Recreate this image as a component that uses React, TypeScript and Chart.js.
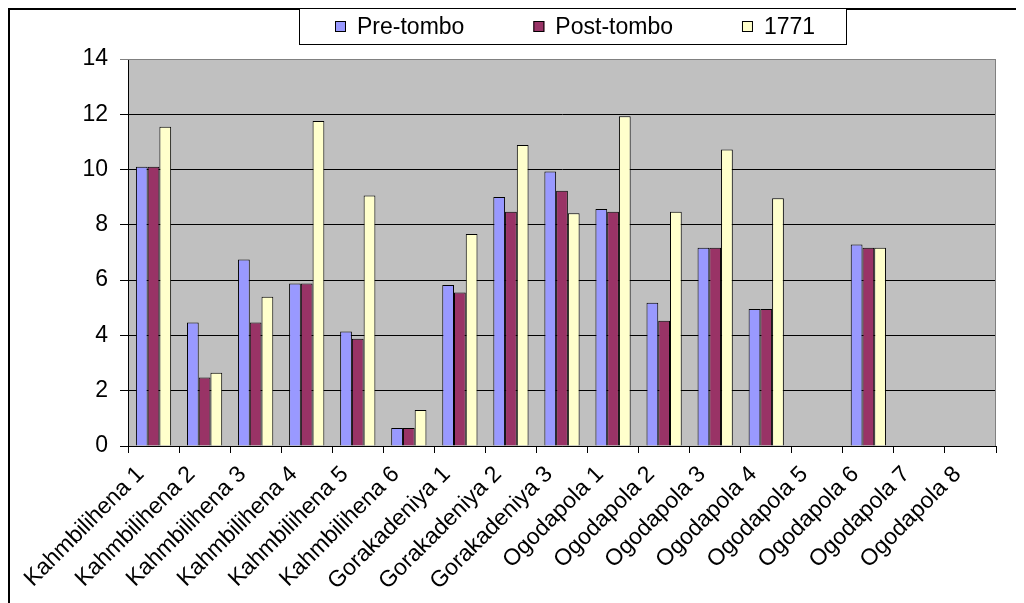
import React, { useEffect, useRef } from "react";
import { Chart, registerables } from "chart.js";

Chart.register(...registerables);

const categories = [
  "Kahmbilihena 1", "Kahmbilihena 2", "Kahmbilihena 3", "Kahmbilihena 4",
  "Kahmbilihena 5", "Kahmbilihena 6", "Gorakadeniya 1", "Gorakadeniya 2",
  "Gorakadeniya 3", "Ogodapola 1", "Ogodapola 2", "Ogodapola 3",
  "Ogodapola 4", "Ogodapola 5", "Ogodapola 6", "Ogodapola 7", "Ogodapola 8",
];
const preTombo = [10.1, 4.47, 6.75, 5.88, 4.14, 0.65, 5.82, 9.01, 9.93, 8.57, 5.18, 7.17, 4.96, null, 7.29, null, null];
const postTombo = [10.1, 2.48, 4.47, 5.88, 3.88, 0.65, 5.55, 8.47, 9.23, 8.47, 4.53, 7.17, 4.96, null, 7.17, null, null];
const y1771 = [11.55, 2.65, 5.4, 11.76, 9.06, 1.3, 7.67, 10.89, 8.42, 11.93, 8.47, 10.73, 8.96, null, 7.17, null, null];
const seriesNames = ["Pre-tombo", "Post-tombo", "1771"];
const seriesColors = ["#9999FF", "#993366", "#FFFFCC"];
const yTicks = { min: 0, max: 14, step: 2 };

const FONT = "'Liberation Sans', Arial, sans-serif";
const FS = 23;
const W = 1040;
const H = 620;

const framePlugin = {
  id: "frame",
  beforeDraw(chart: any) {
    const { ctx, chartArea: a } = chart;
    ctx.save();
    ctx.fillStyle = "#ffffff";
    ctx.fillRect(0, 0, chart.width, chart.height);
    ctx.fillStyle = "#C0C0C0";
    ctx.fillRect(a.left, a.top, a.right - a.left, a.bottom - a.top);
    ctx.restore();
  },
  afterDraw(chart: any) {
    const { ctx, chartArea: a } = chart;
    ctx.save();
    ctx.strokeStyle = "#808080";
    ctx.lineWidth = 1;
    ctx.beginPath();
    ctx.moveTo(a.left, a.top + 0.5);
    ctx.lineTo(a.right - 0.5, a.top + 0.5);
    ctx.lineTo(a.right - 0.5, a.bottom);
    ctx.stroke();
    ctx.strokeStyle = "#000";
    ctx.lineWidth = 2;
    ctx.strokeRect(1, 1, chart.width - 2, chart.height - 2);

    const ds = chart.data.datasets;
    ctx.font = `${FS}px ${FONT}`;
    const box = 11;
    const boxGap = 11;
    const itemGap = 69;
    const widths = ds.map((d: any) => ctx.measureText(d.label).width);
    let total = 0;
    widths.forEach((w: number, i: number) => {
      total += box + boxGap + w + (i < widths.length - 1 ? itemGap : 0);
    });
    const padL = 36;
    const padR = 31;
    const cx = 565;
    const bx = Math.round(cx - (total + padL + padR) / 2);
    const bw = Math.round(total + padL + padR);
    ctx.fillStyle = "#fff";
    ctx.fillRect(bx, 0, bw, 36);
    ctx.strokeStyle = "#000";
    ctx.lineWidth = 1;
    ctx.strokeRect(bx + 0.5, 0.5, bw, 36);
    let x = bx + padL;
    ds.forEach((d: any, i: number) => {
      ctx.fillStyle = d.backgroundColor;
      ctx.fillRect(x, 13, box, box);
      ctx.strokeStyle = "#000";
      ctx.strokeRect(x + 0.5, 13.5, box - 1, box - 1);
      ctx.fillStyle = "#000";
      ctx.textBaseline = "alphabetic";
      ctx.textAlign = "left";
      ctx.fillText(d.label, x + box + boxGap, 26);
      x += box + boxGap + widths[i] + itemGap;
    });
    ctx.restore();
  },
};

export default function App() {
  const ref = useRef<HTMLCanvasElement | null>(null);
  useEffect(() => {
    if (!ref.current) return;
    const chart = new Chart(ref.current, {
      type: "bar",
      data: {
        labels: categories,
        datasets: [preTombo, postTombo, y1771].map((d, i) => ({
          label: seriesNames[i],
          data: d,
          backgroundColor: seriesColors[i],
          borderColor: "#000",
          borderWidth: 1,
          categoryPercentage: 0.69,
          barPercentage: 1,
        })),
      },
      options: {
        responsive: false,
        devicePixelRatio: 1,
        animation: false,
        layout: { padding: { left: 0, top: 51, right: 52, bottom: 0 } },
        plugins: {
          legend: { display: false },
          tooltip: { enabled: false },
        },
        scales: {
          x: {
            grid: {
              offset: true,
              drawOnChartArea: false,
              drawTicks: true,
              tickLength: 7,
              color: "#000",
            },
            border: { display: true, color: "#000" },
            ticks: {
              autoSkip: false,
              minRotation: 45,
              maxRotation: 45,
              color: "#000",
              font: { family: FONT, size: FS },
              padding: 8,
              labelOffset: -13,
            },
            afterFit(scale: any) {
              scale.height = 182;
            },
          },
          y: {
            min: yTicks.min,
            max: yTicks.max,
            ticks: {
              stepSize: yTicks.step,
              color: "#000",
              font: { family: FONT, size: FS },
              padding: 12,
            },
            grid: {
              color: (c: any) => (c.tick && c.tick.value === yTicks.max ? "#808080" : "#000"),
              tickLength: 8,
              drawTicks: true,
            },
            border: { display: true, color: "#000" },
            afterFit(scale: any) {
              scale.width = 120;
            },
          },
        },
      },
      plugins: [framePlugin],
    });
    return () => chart.destroy();
  }, []);
  return (
    <div style={{ width: 1016, height: 595, overflow: "hidden", position: "relative" }}>
      <canvas ref={ref} width={W} height={H} style={{ display: "block", width: W, height: H }} />
    </div>
  );
}
